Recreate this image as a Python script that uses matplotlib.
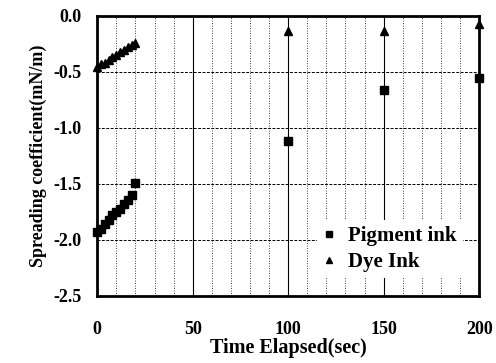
"""
Spreading coefficient of pigment and dye inks over time.
"""

import matplotlib
matplotlib.use("Agg")
import matplotlib.pyplot as plt
from matplotlib.ticker import MultipleLocator

TIME_SEC = [0, 2, 4, 6, 8, 10, 12, 14, 16, 18, 20, 100, 150, 200]
PIGMENT_INK = [-1.93, -1.90, -1.86, -1.82, -1.78, -1.75, -1.72, -1.68,
               -1.64, -1.60, -1.49, -1.12, -0.66, -0.55]
DYE_INK = [-0.46, -0.43, -0.42, -0.39, -0.37, -0.35, -0.32, -0.30,
           -0.28, -0.26, -0.24, -0.13, -0.13, -0.07]


def create_chart() -> None:
    plt.rcParams["font.family"] = "Liberation Serif"
    plt.rcParams["font.weight"] = "bold"

    fig = plt.figure(figsize=(4.96, 3.63), dpi=100)
    ax = fig.add_axes([0.196, 0.185, 0.77, 0.771])

    ax.plot(TIME_SEC, PIGMENT_INK, linestyle="none", marker="s",
            markersize=5.5, color="black", label="Pigment ink",
            clip_on=False, zorder=3)
    ax.plot(TIME_SEC, DYE_INK, linestyle="none", marker="^",
            markersize=6, color="black", label="Dye Ink",
            clip_on=False, zorder=3)

    ax.set_xlim(0, 200)
    ax.set_ylim(-2.5, 0.0)
    ax.xaxis.set_major_locator(MultipleLocator(50))
    ax.xaxis.set_minor_locator(MultipleLocator(10))
    ax.yaxis.set_major_locator(MultipleLocator(0.5))
    ax.set_yticklabels([f"{v:.1f}" for v in ax.get_yticks()])

    ax.grid(which="major", axis="x", color="black", linewidth=0.8)
    ax.grid(which="minor", axis="x", color="black", linewidth=0.6,
            linestyle=(0, (1, 2)))
    ax.grid(which="major", axis="y", color="black", linewidth=0.7,
            linestyle=(0, (3, 1.5)))
    ax.set_axisbelow(True)

    ax.tick_params(which="both", length=0)
    ax.tick_params(axis="x", pad=18, labelsize=13)
    ax.tick_params(axis="y", pad=11, labelsize=13)
    for spine in ax.spines.values():
        spine.set_linewidth(2)

    ax.set_xlabel("Time Elapsed(sec)", fontsize=14.5, fontweight="bold",
                  labelpad=0)
    ax.set_ylabel("Spreading coefficient(mN/m)", fontsize=13,
                  fontweight="bold", labelpad=5)

    leg = ax.legend(loc="lower right", bbox_to_anchor=(0.985, 0.025),
                    frameon=True, fancybox=False, fontsize=15,
                    markerscale=0.7, handlelength=0.6, handletextpad=0.6,
                    labelspacing=0.3, borderpad=0.3)
    leg.get_frame().set_edgecolor("none")
    leg.get_frame().set_facecolor("white")
    leg.get_frame().set_alpha(1)

    fig.savefig("out.png", dpi=100)


if __name__ == "__main__":
    create_chart()
